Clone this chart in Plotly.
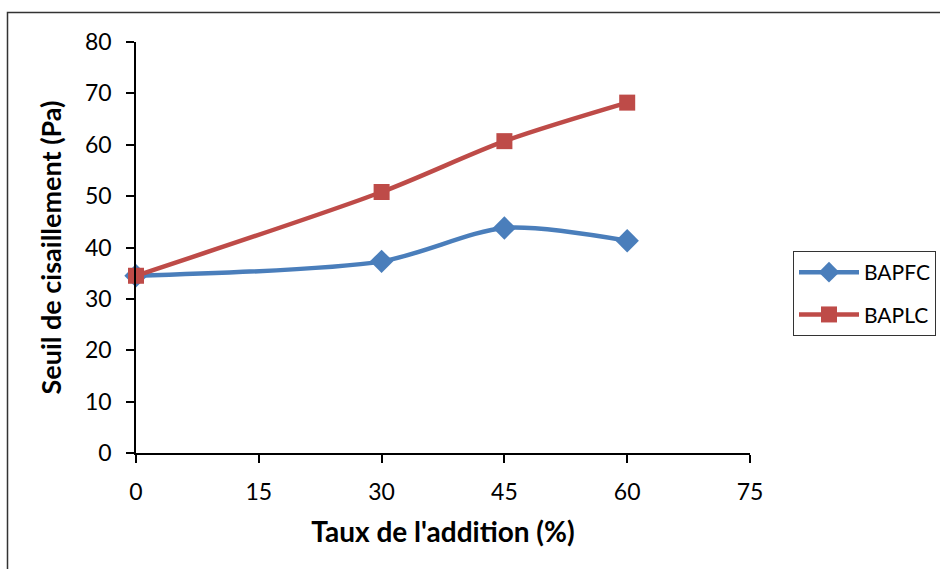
import plotly.graph_objects as go

# Taux de l'addition (%)
taux = [0, 30, 45, 60]
# Seuil de cisaillement (Pa)
bapfc = [34.5, 37.3, 43.8, 41.3]
baplc = [34.5, 50.8, 60.7, 68.2]

x_ticks = [0, 15, 30, 45, 60, 75]
y_ticks = [0, 10, 20, 30, 40, 50, 60, 70, 80]

font_family = "Lato"

fig = go.Figure()

fig.add_trace(go.Scatter(
    x=taux, y=bapfc, name="BAPFC", mode="lines+markers", legendgroup="g1",
    line=dict(color="#4A7EBB", width=4.5, shape="spline", smoothing=0.8),
    marker=dict(symbol="diamond", size=18, color="#4A7EBB"),
    cliponaxis=False,
))
fig.add_trace(go.Scatter(
    x=taux, y=baplc, name="BAPLC", mode="lines+markers", legendgroup="g2",
    line=dict(color="#BE4B48", width=4.5, shape="spline", smoothing=0.8),
    marker=dict(symbol="square", size=16, color="#BE4B48"),
    cliponaxis=False,
))

axis_common = dict(
    showgrid=False, zeroline=False, showline=True, linecolor="black",
    linewidth=1.5, ticks="outside", ticklen=8, tickcolor="black",
    tickwidth=1.5, tickfont=dict(size=23, color="black", family=font_family),
    automargin=False,
)

# plot area spans the left part of the paper; the legend sits to its right
plot_frac = 614 / 804

fig.update_xaxes(
    domain=[0, plot_frac],
    range=[0, 75], tickvals=x_ticks, ticktext=[str(v) for v in x_ticks],
    ticklabelstandoff=10,
    title=dict(text="<b>Taux de l'addition (%)</b>",
               font=dict(size=28, color="black", family=font_family),
               standoff=18),
    **axis_common,
)
fig.update_yaxes(
    range=[0, 80], tickvals=y_ticks, ticktext=[str(v) for v in y_ticks],
    ticklabelstandoff=10,
    title=dict(text="<b>Seuil de cisaillement (Pa)</b>",
               font=dict(size=27, color="black", family=font_family),
               standoff=16),
    **axis_common,
)

fig.update_layout(
    width=940, height=569,
    margin=dict(l=136, r=0, t=42, b=116),
    plot_bgcolor="white", paper_bgcolor="white",
    font=dict(family=font_family, color="black"),
    legend=dict(
        x=(793 - 136) / 804, y=(453 - 251) / 411, xanchor="left", yanchor="top",
        bordercolor="#333333", borderwidth=1, bgcolor="white",
        font=dict(size=21, color="black", family=font_family),
        itemwidth=60, traceorder="grouped", tracegroupgap=12,
    ),
    showlegend=True,
    shapes=[dict(
        type="rect", xref="paper", yref="paper",
        x0=(7.5 - 136) / 804, x1=(960 - 136) / 804,
        y0=(453 - 600) / 411, y1=(453 - 12.5) / 411,
        line=dict(color="#333333", width=1.5), layer="below",
    )],
)

fig.write_html("out.html")
